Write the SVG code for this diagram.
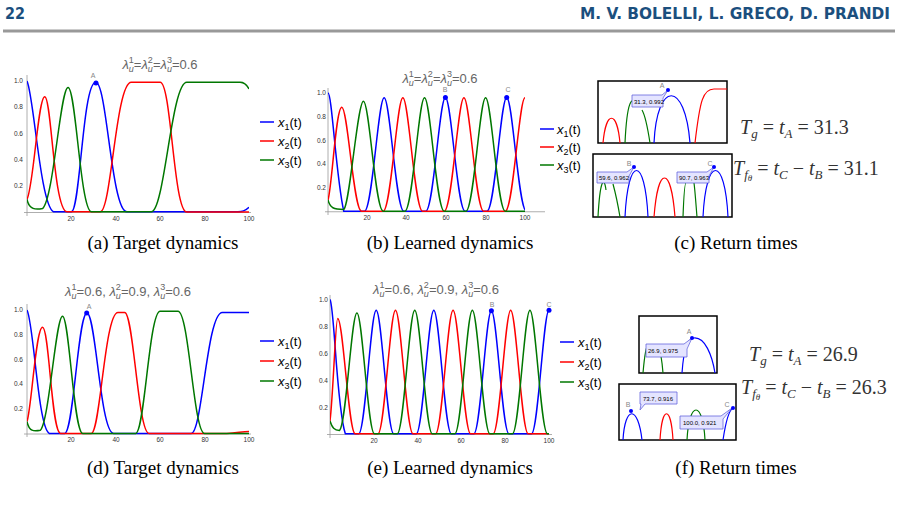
<svg xmlns="http://www.w3.org/2000/svg" width="898" height="524" viewBox="0 0 898 524">
<style>
.c{fill:none;stroke-width:1.5;vector-effect:non-scaling-stroke}
.b{stroke:#0000ff}.r{stroke:#ff0000}.g{stroke:#007700}
.ax{stroke:#999;stroke-width:0.8;fill:none}
.tk{font-family:"Liberation Sans",sans-serif;font-size:6.5px;fill:#333}
.ti{font-family:"Liberation Sans",sans-serif;font-size:13px;fill:#666}
.lg{font-family:"Liberation Sans",sans-serif;font-size:13px;fill:#000}
.cap{font-family:"Liberation Serif",serif;font-size:19px;fill:#000}
.eq{font-family:"Liberation Serif",serif;font-size:20px;fill:#333}
.tt{fill:#e4e4ff;stroke:#6666dd;stroke-width:0.8}
.ttx{font-family:"Liberation Sans",sans-serif;font-size:6px;fill:#000}
.pl{font-family:"Liberation Sans",sans-serif;font-size:7px;fill:#888}
.box{fill:#fff;stroke:#000;stroke-width:1.5}
.ic{fill:none;stroke-width:1.2}
</style>
<defs>
<clipPath id="ca"><rect x="0" y="-0.1" width="100" height="1.2"/></clipPath>
</defs>
<rect width="898" height="524" fill="#fff"/>
<g font-family="DejaVu Sans Condensed,DejaVu Sans,sans-serif" font-weight="bold" font-size="16" fill="#1b4f7e">
<text x="5" y="19">22</text>
<text x="890" y="19" text-anchor="end" textLength="310" lengthAdjust="spacingAndGlyphs">M. V. BOLELLI, L. GRECO, D. PRANDI</text>
</g>
<line x1="3" y1="31" x2="895" y2="31" stroke="#999" stroke-width="3"/>

<!-- Plot a -->
<g id="plot-a">
<text class="ti" x="160" y="69" text-anchor="middle"><tspan font-style="italic">λ</tspan><tspan font-size="9" font-style="italic" dy="3">u</tspan><tspan font-size="9" dy="-9" dx="-5">1</tspan><tspan dy="6">=</tspan><tspan font-style="italic">λ</tspan><tspan font-size="9" font-style="italic" dy="3">u</tspan><tspan font-size="9" dy="-9" dx="-5">2</tspan><tspan dy="6">=</tspan><tspan font-style="italic">λ</tspan><tspan font-size="9" font-style="italic" dy="3">u</tspan><tspan font-size="9" dy="-9" dx="-5">3</tspan><tspan dy="6">=0.6</tspan></text>
<path class="ax" d="M24,212.5H251M27,75V216"/>
<g class="tk" text-anchor="end"><text x="23" y="83">1.0</text><text x="23" y="109">0.8</text><text x="23" y="136">0.6</text><text x="23" y="162">0.4</text><text x="23" y="188">0.2</text></g>
<g class="tk" text-anchor="middle"><text x="71" y="221">20</text><text x="116" y="221">40</text><text x="160" y="221">60</text><text x="205" y="221">80</text><text x="249" y="221">100</text></g>
<g transform="translate(27,212.5) scale(2.22,-131.5)" clip-path="url(#ca)">
<path class="c b" d="M0,1 C3,0.9 6,0.05 12,0.005 L20,0.005 C24,0.01 25,0.99 31,0.99 C36,0.99 38,0.01 45,0.005 L95,0.005 C97,0.005 98,0.01 100,0.04"/>
<path class="c r" d="M0,0.1 C3,0.2 5,0.88 8,0.88 C11,0.88 12,0.02 18,0.005 L33,0.005 C38,0.01 40,0.99 47,0.99 L60,0.99 C65,0.99 66,0.005 72,0.003 L100,0.003"/>
<path class="c g" d="M0,0.1 C1,0.02 4,0.02 7,0.03 C12,0.1 15,0.95 18.5,0.95 C22,0.95 24,0.02 29,0.005 L56,0.005 C62,0.01 65,0.99 72,0.99 L96,0.99 C98,0.99 99,0.97 100,0.94"/>
</g>
<circle cx="96" cy="83" r="2.5" fill="#0000ff"/><text class="pl" x="93" y="78" text-anchor="middle">A</text>
</g>
<g id="legend-a">
<path d="M260,122h14" stroke="#00f" stroke-width="1.5"/><path d="M260,141h14" stroke="#f00" stroke-width="1.5"/><path d="M260,160h14" stroke="#070" stroke-width="1.5"/>
<text class="lg" x="278" y="127"><tspan font-style="italic">x</tspan><tspan font-size="9" dy="3">1</tspan><tspan dy="-3">(t)</tspan></text>
<text class="lg" x="278" y="146"><tspan font-style="italic">x</tspan><tspan font-size="9" dy="3">2</tspan><tspan dy="-3">(t)</tspan></text>
<text class="lg" x="278" y="165"><tspan font-style="italic">x</tspan><tspan font-size="9" dy="3">3</tspan><tspan dy="-3">(t)</tspan></text>
</g>

<!-- Plot b -->
<g id="plot-b">
<text class="ti" x="440" y="83" text-anchor="middle"><tspan font-style="italic">λ</tspan><tspan font-size="9" font-style="italic" dy="3">u</tspan><tspan font-size="9" dy="-9" dx="-5">1</tspan><tspan dy="6">=</tspan><tspan font-style="italic">λ</tspan><tspan font-size="9" font-style="italic" dy="3">u</tspan><tspan font-size="9" dy="-9" dx="-5">2</tspan><tspan dy="6">=</tspan><tspan font-style="italic">λ</tspan><tspan font-size="9" font-style="italic" dy="3">u</tspan><tspan font-size="9" dy="-9" dx="-5">3</tspan><tspan dy="6">=0.6</tspan></text>
<path class="ax" d="M325,211.75H545M328,88V215"/>
<g class="tk" text-anchor="end"><text x="326" y="95">1.0</text><text x="326" y="119">0.8</text><text x="326" y="143">0.6</text><text x="326" y="166">0.4</text><text x="326" y="190">0.2</text></g>
<g class="tk" text-anchor="middle"><text x="367" y="220">20</text><text x="406" y="220">40</text><text x="446" y="220">60</text><text x="486" y="220">80</text><text x="525" y="220">100</text></g>
<g transform="translate(328,211.75) scale(1.97,-118.75)" clip-path="url(#ca)">
<path class="c b" d="M0,1 C2,1 4,0.3 8,0.005 L18.5,0.005 C22.5,0.005 25.5,0.96 28.5,0.96 C31.5,0.96 34.5,0.005 38.5,0.005 L49.6,0.005 C53.6,0.005 56.6,0.962 59.6,0.962 C62.6,0.962 65.6,0.005 69.6,0.005 L80.7,0.005 C84.7,0.005 87.7,0.963 90.7,0.963 C93.7,0.963 96.7,0.005 100.7,0.005"/>
<path class="c r" d="M0,0.1 C2,0.2 4,0.88 7,0.88 C10,0.88 13,0.005 17,0.005 L28,0.005 C32,0.005 35,0.96 38,0.96 C41,0.96 44,0.005 48,0.005 L59,0.005 C63,0.005 66,0.96 69,0.96 C72,0.96 75,0.005 79,0.005 L90,0.005 C94,0.005 97,0.96 100,0.96"/>
<path class="c g" d="M0,0.1 C1,0.03 3,0.02 8,0.02 C11,0.05 15,0.93 18,0.93 C21,0.93 24,0.005 28,0.005 L39,0.005 C43,0.005 46,0.96 49,0.96 C52,0.96 55,0.005 59,0.005 L70,0.005 C74,0.005 77,0.96 80,0.96 C83,0.96 86,0.005 90,0.005 L100,0.005"/>
</g>
<circle cx="445.4" cy="97.5" r="2.5" fill="#0000ff"/><text class="pl" x="445" y="92" text-anchor="middle">B</text>
<circle cx="506.7" cy="97.4" r="2.5" fill="#0000ff"/><text class="pl" x="508" y="92" text-anchor="middle">C</text>
</g>
<g id="legend-b">
<path d="M540,129h14" stroke="#00f" stroke-width="1.5"/><path d="M540,147h14" stroke="#f00" stroke-width="1.5"/><path d="M540,165h14" stroke="#070" stroke-width="1.5"/>
<text class="lg" x="557" y="134"><tspan font-style="italic">x</tspan><tspan font-size="9" dy="3">1</tspan><tspan dy="-3">(t)</tspan></text>
<text class="lg" x="557" y="152"><tspan font-style="italic">x</tspan><tspan font-size="9" dy="3">2</tspan><tspan dy="-3">(t)</tspan></text>
<text class="lg" x="557" y="170"><tspan font-style="italic">x</tspan><tspan font-size="9" dy="3">3</tspan><tspan dy="-3">(t)</tspan></text>
</g>

<!-- Inset c -->
<g id="inset-c1">
<rect class="box" x="598" y="81" width="129" height="62"/>
<path class="ic" stroke="#f00" d="M603,143 C606,110 617,110 620,143"/>
<path class="ic" stroke="#070" d="M625,143 C627,100 632,95 637,105 M642,110 C645,115 648,130 650,143"/>
<path class="ic" stroke="#00f" d="M654,143 C657,80 685,80 690,143"/>
<path class="ic" stroke="#f00" d="M695,143 C700,100 703,89 714,89 L727,89"/>
<path class="tt" d="M632,95H662L668,90L663,98V107H632Z"/>
<text class="ttx" x="634" y="103.5">31.3, 0.992</text>
<circle cx="668" cy="90" r="2" fill="#00f"/><text class="pl" x="662" y="88" text-anchor="middle">A</text>
</g>
<g id="inset-c2">
<rect class="box" x="593" y="154" width="139" height="63"/>
<path class="ic" stroke="#070" d="M598,217 C600,180 604,175 606,190 M613,184 C616,195 618,205 620,217"/>
<path class="ic" stroke="#00f" d="M625,217 C628,155 645,155 648,217"/>
<path class="ic" stroke="#f00" d="M654,217 C658,165 671,165 675,217"/>
<path class="ic" stroke="#070" d="M683,217 C684,190 685,183 686,183 M694,183 C695,190 696,205 697,217"/>
<path class="ic" stroke="#00f" d="M703,217 C706,155 725,155 728,217"/>
<path class="tt" d="M597,172H627L634,167L629,176V183H597Z"/>
<text class="ttx" x="599" y="180">59.6, 0.962</text>
<path class="tt" d="M677,172H707L714,167L709,176V183H677Z"/>
<text class="ttx" x="679" y="180">90.7, 0.963</text>
<circle cx="634" cy="167" r="2" fill="#00f"/><text class="pl" x="629" y="166" text-anchor="middle">B</text>
<circle cx="714" cy="167" r="2" fill="#00f"/><text class="pl" x="710" y="166" text-anchor="middle">C</text>
</g>
<text class="eq" x="740" y="134"><tspan font-style="italic">T</tspan><tspan font-size="13" font-style="italic" dy="4">g</tspan><tspan dy="-4"> = </tspan><tspan font-style="italic">t</tspan><tspan font-size="13" font-style="italic" dy="4">A</tspan><tspan dy="-4"> = 31.3</tspan></text>
<text class="eq" x="733" y="175"><tspan font-style="italic">T</tspan><tspan font-size="13" font-style="italic" dy="4">f</tspan><tspan font-size="9" font-style="italic" dy="2">θ</tspan><tspan dy="-6"> = </tspan><tspan font-style="italic">t</tspan><tspan font-size="13" font-style="italic" dy="4">C</tspan><tspan dy="-4"> − </tspan><tspan font-style="italic">t</tspan><tspan font-size="13" font-style="italic" dy="4">B</tspan><tspan dy="-4"> = 31.1</tspan></text>

<g class="cap" text-anchor="middle">
<text x="163" y="249">(a) Target dynamics</text>
<text x="450" y="249">(b) Learned dynamics</text>
<text x="736" y="249">(c) Return times</text>
<text x="163" y="474">(d) Target dynamics</text>
<text x="450" y="474">(e) Learned dynamics</text>
<text x="736" y="474">(f) Return times</text>
</g>

<!-- Plot d -->
<g id="plot-d">
<text class="ti" x="128" y="296" text-anchor="middle"><tspan font-style="italic">λ</tspan><tspan font-size="9" font-style="italic" dy="3">u</tspan><tspan font-size="9" dy="-9" dx="-5">1</tspan><tspan dy="6">=0.6, </tspan><tspan font-style="italic">λ</tspan><tspan font-size="9" font-style="italic" dy="3">u</tspan><tspan font-size="9" dy="-9" dx="-5">2</tspan><tspan dy="6">=0.9, </tspan><tspan font-style="italic">λ</tspan><tspan font-size="9" font-style="italic" dy="3">u</tspan><tspan font-size="9" dy="-9" dx="-5">3</tspan><tspan dy="6">=0.6</tspan></text>
<path class="ax" d="M24,434H251M27,304V437"/>
<g class="tk" text-anchor="end"><text x="23" y="312">1.0</text><text x="23" y="337">0.8</text><text x="23" y="362">0.6</text><text x="23" y="386">0.4</text><text x="23" y="411">0.2</text></g>
<g class="tk" text-anchor="middle"><text x="71" y="442">20</text><text x="116" y="442">40</text><text x="160" y="442">60</text><text x="205" y="442">80</text><text x="249" y="442">100</text></g>
<g transform="translate(27,434) scale(2.22,-124)" clip-path="url(#ca)">
<path class="c b" d="M0,1 C3,0.9 5,0.05 10,0.005 L17,0.005 C21,0.01 23,0.975 27,0.975 C31,0.975 33,0.01 39,0.005 L74,0.005 C79,0.01 81,0.98 88,0.98 L100,0.98"/>
<path class="c r" d="M0,0.1 C2,0.2 4,0.86 7,0.86 C10,0.86 11,0.02 15,0.005 L29,0.005 C33,0.01 35,0.98 41,0.98 L44,0.98 C48,0.98 50,0.005 55,0.005 L90,0.005 C95,0.01 97,0.02 100,0.02"/>
<path class="c g" d="M0,0.1 C1,0.02 3,0.02 6,0.03 C10,0.1 13,0.95 16,0.95 C19,0.95 21,0.02 25,0.005 L49,0.005 C53,0.01 55,0.99 60,0.99 L68,0.99 C73,0.99 75,0.005 80,0.005 L100,0.005"/>
</g>
<circle cx="86.7" cy="313" r="2.5" fill="#0000ff"/><text class="pl" x="89" y="309" text-anchor="middle">A</text>
</g>
<g id="legend-d">
<path d="M260,341h14" stroke="#00f" stroke-width="1.5"/><path d="M260,361h14" stroke="#f00" stroke-width="1.5"/><path d="M260,381h14" stroke="#070" stroke-width="1.5"/>
<text class="lg" x="278" y="346"><tspan font-style="italic">x</tspan><tspan font-size="9" dy="3">1</tspan><tspan dy="-3">(t)</tspan></text>
<text class="lg" x="278" y="366"><tspan font-style="italic">x</tspan><tspan font-size="9" dy="3">2</tspan><tspan dy="-3">(t)</tspan></text>
<text class="lg" x="278" y="386"><tspan font-style="italic">x</tspan><tspan font-size="9" dy="3">3</tspan><tspan dy="-3">(t)</tspan></text>
</g>

<!-- Plot e -->
<g id="plot-e">
<text class="ti" x="436" y="294" text-anchor="middle"><tspan font-style="italic">λ</tspan><tspan font-size="9" font-style="italic" dy="3">u</tspan><tspan font-size="9" dy="-9" dx="-5">1</tspan><tspan dy="6">=0.6, </tspan><tspan font-style="italic">λ</tspan><tspan font-size="9" font-style="italic" dy="3">u</tspan><tspan font-size="9" dy="-9" dx="-5">2</tspan><tspan dy="6">=0.9, </tspan><tspan font-style="italic">λ</tspan><tspan font-size="9" font-style="italic" dy="3">u</tspan><tspan font-size="9" dy="-9" dx="-5">3</tspan><tspan dy="6">=0.6</tspan></text>
<path class="ax" d="M327,434.5H552M330,295V438"/>
<g class="tk" text-anchor="end"><text x="328" y="302">1.0</text><text x="328" y="329">0.8</text><text x="328" y="356">0.6</text><text x="328" y="383">0.4</text><text x="328" y="410">0.2</text></g>
<g class="tk" text-anchor="middle"><text x="374" y="443">20</text><text x="418" y="443">40</text><text x="461" y="443">60</text><text x="505" y="443">80</text><text x="549" y="443">100</text></g>
<g transform="translate(330,434.5) scale(2.19,-135)" clip-path="url(#ca)">
<path class="c b" d="M0,1 C2,0.95 3,0.2 7,0.005 L13.1,0.005 C16.1,0.005 18.6,0.92 21.1,0.92 C23.6,0.92 26.1,0.005 29.1,0.005 L39.4,0.005 C42.4,0.005 44.9,0.92 47.4,0.92 C49.9,0.92 52.4,0.005 55.4,0.005 L65.7,0.005 C68.7,0.005 71.2,0.916 73.7,0.916 C76.2,0.916 78.7,0.005 81.7,0.005 L92,0.005 C95,0.005 97.5,0.921 100,0.921"/>
<path class="c r" d="M0,0.1 C1.5,0.3 2.5,0.86 3.5,0.86 C6,0.86 8.5,0.005 11.5,0.005 L21.9,0.005 C24.9,0.005 27.4,0.92 29.9,0.92 C32.4,0.92 34.9,0.005 37.9,0.005 L48.2,0.005 C51.2,0.005 53.7,0.92 56.2,0.92 C58.7,0.92 61.2,0.005 64.2,0.005 L74.5,0.005 C77.5,0.005 80,0.92 82.5,0.92 C85,0.92 87.5,0.005 90.5,0.005 L100,0.005"/>
<path class="c g" d="M0,0.1 C1,0.05 2,0.03 4.3,0.03 C7.3,0.05 9.8,0.9 12.3,0.9 C14.8,0.9 17.3,0.005 20.3,0.005 L30.7,0.005 C33.7,0.005 36.2,0.92 38.7,0.92 C41.2,0.92 43.7,0.005 46.7,0.005 L57,0.005 C60,0.005 62.5,0.92 65,0.92 C67.5,0.92 70,0.005 73,0.005 L83.3,0.005 C86.3,0.005 88.8,0.92 91.3,0.92 C93.8,0.92 96.3,0.005 99.3,0.005 L100,0.005"/>
</g>
<circle cx="491.4" cy="310.8" r="2.5" fill="#0000ff"/><text class="pl" x="492" y="307" text-anchor="middle">B</text>
<circle cx="549" cy="310.2" r="2.5" fill="#0000ff"/><text class="pl" x="549" y="307" text-anchor="middle">C</text>
</g>
<g id="legend-e">
<path d="M560,342h14" stroke="#00f" stroke-width="1.5"/><path d="M560,362h14" stroke="#f00" stroke-width="1.5"/><path d="M560,382h14" stroke="#070" stroke-width="1.5"/>
<text class="lg" x="578" y="347"><tspan font-style="italic">x</tspan><tspan font-size="9" dy="3">1</tspan><tspan dy="-3">(t)</tspan></text>
<text class="lg" x="578" y="367"><tspan font-style="italic">x</tspan><tspan font-size="9" dy="3">2</tspan><tspan dy="-3">(t)</tspan></text>
<text class="lg" x="578" y="387"><tspan font-style="italic">x</tspan><tspan font-size="9" dy="3">3</tspan><tspan dy="-3">(t)</tspan></text>
</g>

<!-- Inset f -->
<g id="inset-f1">
<rect class="box" x="639" y="316" width="78" height="57"/>
<path class="ic" stroke="#070" d="M643,373 C645,350 647,345 648,345 M658,345 C660,350 662,360 663,373"/>
<path class="ic" stroke="#00f" d="M682,373 C684,345 688,339 694,338 C705,337 712,355 715,373"/>
<path class="tt" d="M646,344H684L692,338L687,349V357H646Z"/>
<text class="ttx" x="648" y="353">26.9, 0.975</text>
<circle cx="692" cy="338" r="2" fill="#00f"/><text class="pl" x="689" y="334" text-anchor="middle">A</text>
</g>
<g id="inset-f2">
<rect class="box" x="619" y="384" width="117" height="56"/>
<path class="ic" stroke="#00f" d="M623,440 C625,405 638,405 642,440"/>
<path class="ic" stroke="#f00" d="M660,440 C662,405 671,405 673,440"/>
<path class="ic" stroke="#070" d="M687,440 C689,400 703,400 705,440"/>
<path class="ic" stroke="#00f" d="M723,440 C726,420 729,410 733,408"/>
<path class="tt" d="M640,392H677V404H645L640,410L641,404H640Z"/>
<text class="ttx" x="643" y="401">73.7, 0.916</text>
<path class="tt" d="M680,416H721L732,408L723,419V429H680Z"/>
<text class="ttx" x="683" y="425">100.0, 0.921</text>
<circle cx="631" cy="411" r="2" fill="#00f"/><text class="pl" x="628" y="407" text-anchor="middle">B</text>
<circle cx="733" cy="408" r="2" fill="#00f"/><text class="pl" x="727" y="407" text-anchor="middle">C</text>
</g>
<text class="eq" x="749" y="361"><tspan font-style="italic">T</tspan><tspan font-size="13" font-style="italic" dy="4">g</tspan><tspan dy="-4"> = </tspan><tspan font-style="italic">t</tspan><tspan font-size="13" font-style="italic" dy="4">A</tspan><tspan dy="-4"> = 26.9</tspan></text>
<text class="eq" x="741" y="394"><tspan font-style="italic">T</tspan><tspan font-size="13" font-style="italic" dy="4">f</tspan><tspan font-size="9" font-style="italic" dy="2">θ</tspan><tspan dy="-6"> = </tspan><tspan font-style="italic">t</tspan><tspan font-size="13" font-style="italic" dy="4">C</tspan><tspan dy="-4"> − </tspan><tspan font-style="italic">t</tspan><tspan font-size="13" font-style="italic" dy="4">B</tspan><tspan dy="-4"> = 26.3</tspan></text>
</svg>
